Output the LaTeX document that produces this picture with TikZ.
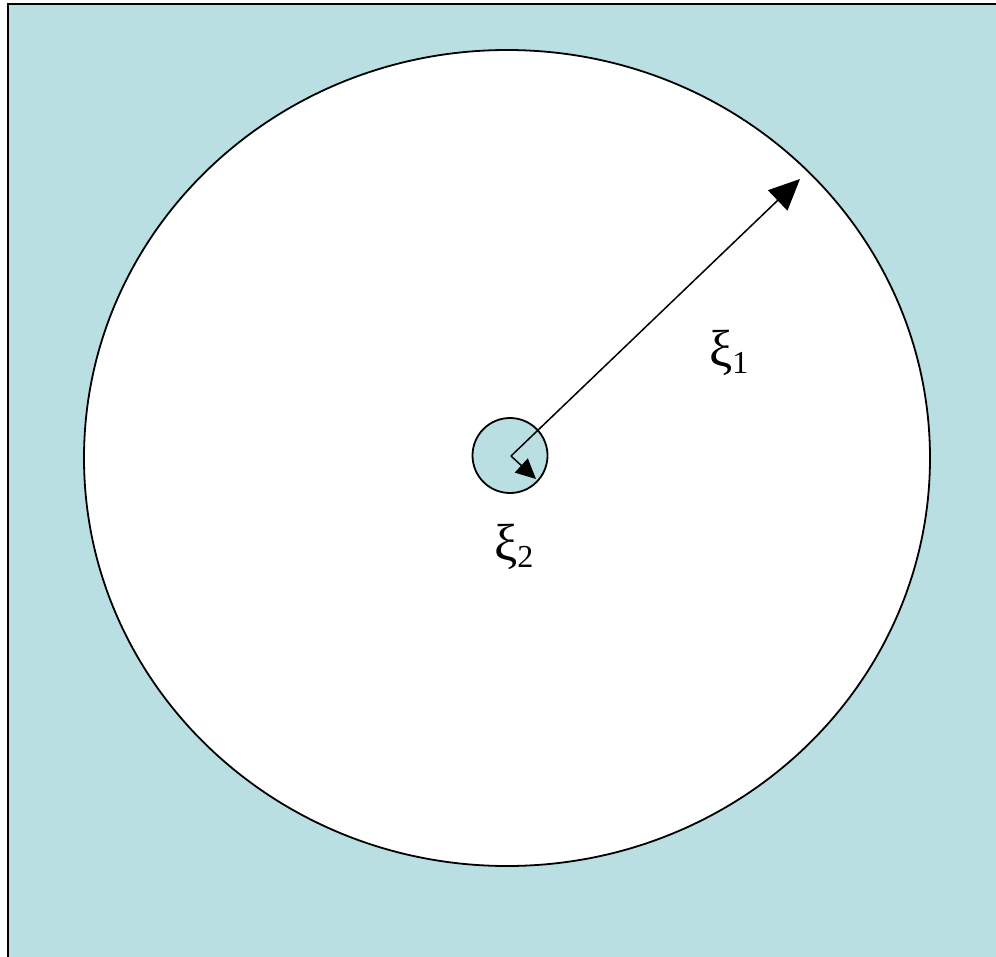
\documentclass[tikz,border=0pt]{standalone}
\usepackage{fontspec}
\setmainfont{Liberation Serif}
\usetikzlibrary{arrows.meta}
\definecolor{bgcyan}{RGB}{186,223,226}
\begin{document}
\begin{tikzpicture}[x=1pt,y=-1pt,
  outline/.style={draw=black,line width=1.8pt},
  ray/.style={draw=black,line width=1.5pt},
  lbl/.style={anchor=base west,inner sep=0pt,font=\fontsize{52}{58}\selectfont}]
\useasboundingbox (0,0) rectangle (996,956);
\clip (0,0) rectangle (996,956);
\fill[white] (0,0) rectangle (996,956);
\draw[outline,fill=bgcyan] (8,4) rectangle (1010,970);
\coordinate (c) at (511,456);
\draw[outline,fill=white] (507,458) ellipse [x radius=423, y radius=408];
\draw[outline,fill=bgcyan] (510,455.5) circle [radius=37.5];
\coordinate (t1) at (800,179);
\coordinate (t2) at (536,479);
\draw[ray,-{Triangle[length=31pt,width=28pt]}] (c) -- (t1);
\draw[ray,-{Triangle[length=20pt,width=19pt]}] (c) -- (t2);
\node[lbl] (xi1) at (709,366) {ξ\raisebox{-7pt}{\fontsize{32}{36}\selectfont 1}};
\node[lbl] (xi2) at (494,560) {ξ\raisebox{-7pt}{\fontsize{32}{36}\selectfont 2}};
\end{tikzpicture}
\end{document}
